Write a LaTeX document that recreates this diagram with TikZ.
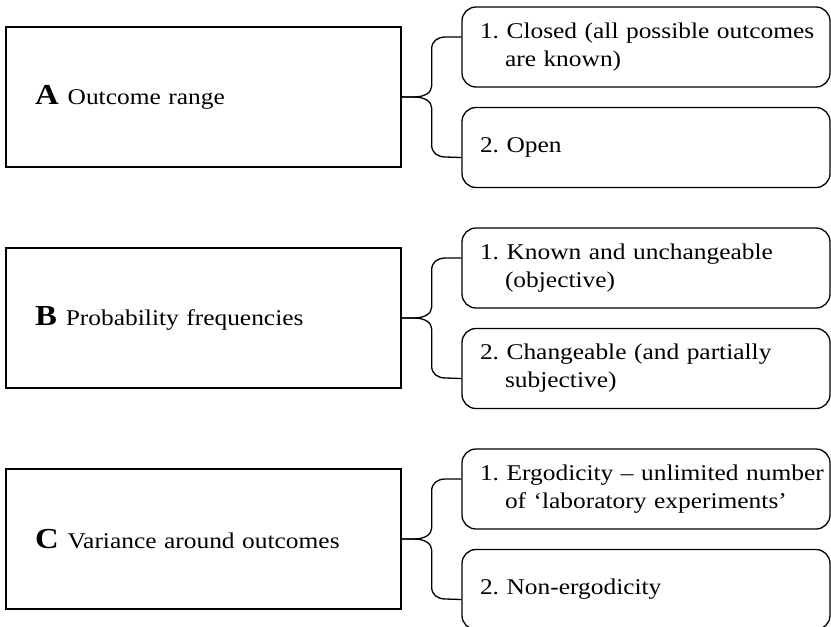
\documentclass[tikz,border=0pt]{standalone}
\usepackage{fontspec}
\setmainfont{Liberation Serif}[FakeStretch=1.13]
\usetikzlibrary{calc}
\newcommand\bigletter[1]{\hspace*{29pt}{\bfseries\fontsize{29}{29}\selectfont #1}\hspace{9pt}}
\newcommand\firstln{\hspace*{18pt}}
\newcommand\hangln{\\\hspace*{43pt}}
\newcommand\braceto[3]{%
  \coordinate (#2arm) at ($(#2.west)+(0,-10)$);
  \coordinate (#3arm) at ($(#3.west)+(0,10)$);
  \draw[braceline] (#1.east) -- ++(12,0) .. controls +(12,0) and +(0,6) .. ++(18,-11)
     -- ++(0,-37) .. controls +(0,-8) and +(-8,0) .. ++(14,-12) -- (#2arm);
  \draw[braceline] (#1.east) -- ++(12,0) .. controls +(12,0) and +(0,-6) .. ++(18,11)
     -- ++(0,37) .. controls +(0,8) and +(-8,0) .. ++(14,12) -- (#3arm);
}
\begin{document}
\begin{tikzpicture}[x=1pt,y=-1pt,
  every node/.style={font=\fontsize{22.5}{28}\selectfont},
  mainbox/.style={draw, line width=1.3pt, inner xsep=0pt, text width=395pt,
    minimum height=140pt, align=left},
  optbox/.style={draw, line width=1.3pt, rounded corners=14pt, inner xsep=0pt,
    text width=368pt, minimum height=80pt, align=left},
  braceline/.style={line width=1.3pt, line join=round}]
\useasboundingbox[fill=white] (0,0) rectangle (831,627);

\node[mainbox] (A) at (203.5,97) {\bigletter{A}Outcome range};
\node[optbox] (A1) at (646,47) {\firstln 1.\ Closed (all possible outcomes\hangln are known)};
\node[optbox] (A2) at (646,147.5) {\firstln 2.\ Open};
\braceto{A}{A1}{A2}

\node[mainbox] (B) at (203.5,318) {\bigletter{B}Probability frequencies};
\node[optbox] (B1) at (646,268) {\firstln 1.\ Known and unchangeable\hangln (objective)};
\node[optbox] (B2) at (646,368.5) {\firstln 2.\ Changeable (and partially\hangln subjective)};
\braceto{B}{B1}{B2}

\node[mainbox] (C) at (203.5,539) {\bigletter{C}Variance around outcomes};
\node[optbox] (C1) at (646,489) {\firstln 1.\ Ergodicity -- unlimited number\hangln of `laboratory experiments'};
\node[optbox] (C2) at (646,589.5) {\firstln 2.\ Non-ergodicity};
\braceto{C}{C1}{C2}
\end{tikzpicture}
\end{document}
